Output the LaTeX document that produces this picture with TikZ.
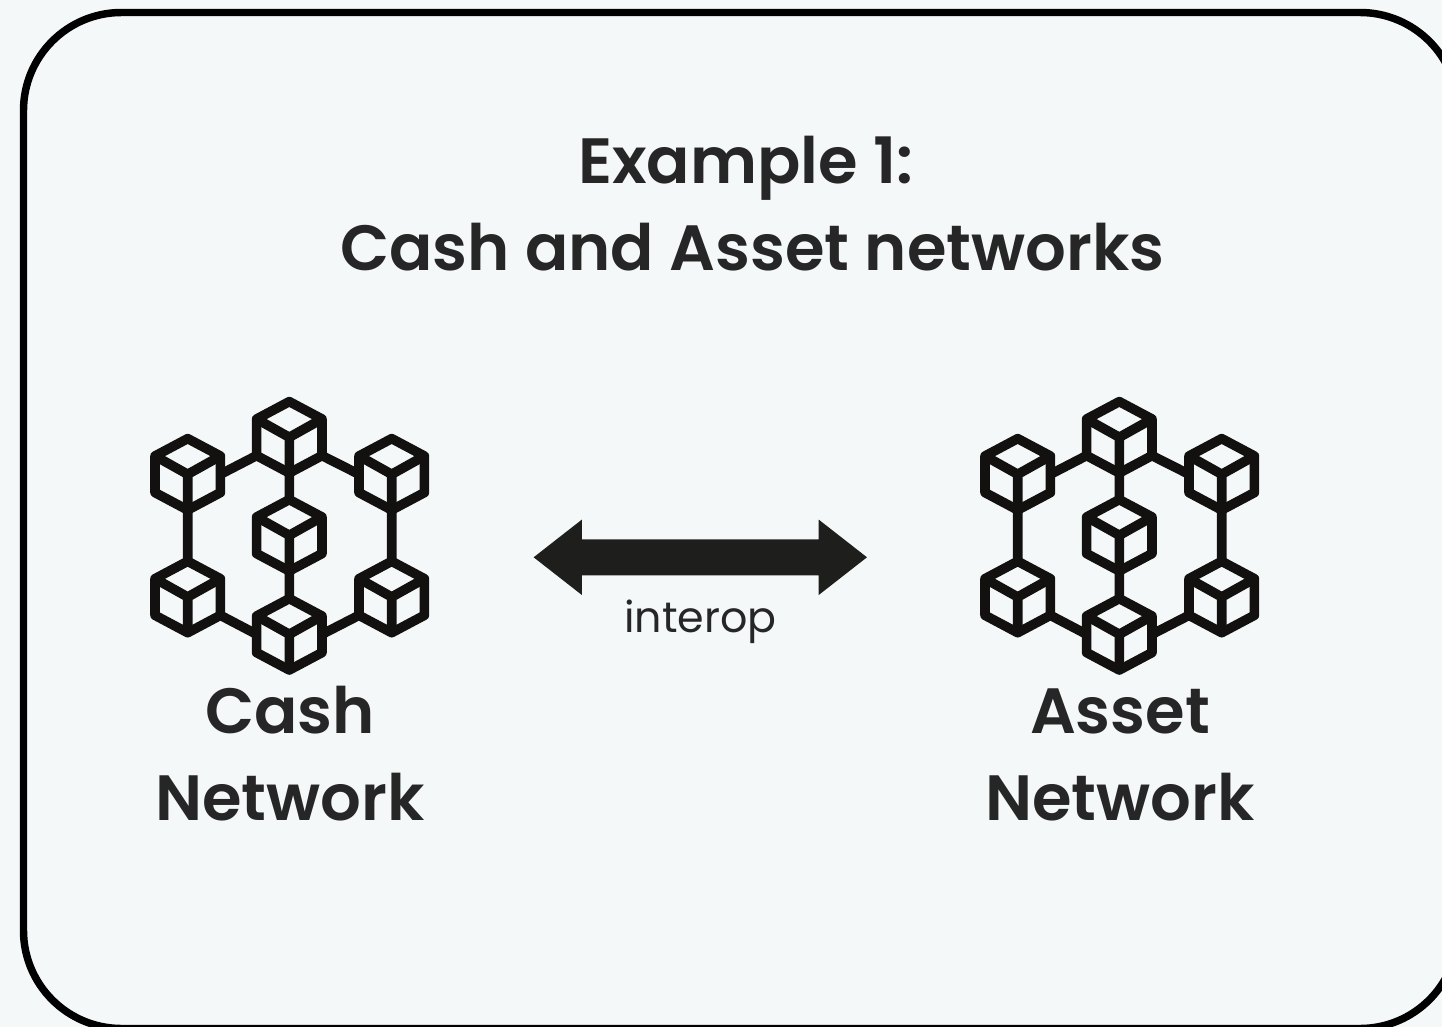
\documentclass[tikz,border=0pt]{standalone}
\usepackage{fontspec}
\usetikzlibrary{shapes.arrows}
\setmainfont{Poppins}
\newfontfamily\semib{Poppins SemiBold}
\definecolor{bgc}{HTML}{F5F8F9}
\definecolor{inkc}{HTML}{262626}
\definecolor{iconc}{HTML}{12110F}
\definecolor{arrowc}{HTML}{1E1E1C}
\tikzset{
  x=0.75pt,y=-0.75pt,
  iconline/.style={draw=iconc,line width=7.2pt,line join=round},
  heading/.style={text=inkc,font=\semib\fontsize{48pt}{65.25pt}\selectfont,align=center,inner sep=0pt},
  small/.style={text=inkc,font=\fontsize{32.1pt}{40pt}\selectfont,inner sep=0pt,anchor=base},
  pics/blockcube/.style={code={
    \coordinate (-t) at (0,-35.7);
    \coordinate (-b) at (0,35.7);
    \coordinate (-ul) at (-32.7,-18.3);
    \coordinate (-ur) at (32.7,-18.3);
    \coordinate (-ll) at (-32.7,18.3);
    \coordinate (-lr) at (32.7,18.3);
    \coordinate (-lm) at (-32.7,0);
    \coordinate (-rm) at (32.7,0);
    \coordinate (-c) at (0,0);
    \draw[iconline] (-t)--(-ur)--(-lr)--(-b)--(-ll)--(-ul)--cycle;
    \draw[iconline] (-ul)--(-c)--(-ur) (-c)--(-b);
  }},
  pics/chainicon/.style={code={
    \pic (-top) at (0,-98) {blockcube};
    \pic (-left) at (-101.6,-61) {blockcube};
    \pic (-right) at (102.4,-61) {blockcube};
    \pic (-mid) at (0,0) {blockcube};
    \pic (-bl) at (-101.6,61.7) {blockcube};
    \pic (-br) at (102.4,61.7) {blockcube};
    \pic (-bot) at (0,99) {blockcube};
    \draw[iconline] (-left-b)--(-bl-t) (-right-b)--(-br-t)
      (-top-b)--(-mid-t) (-mid-b)--(-bot-t)
      (-top-ll)--(-left-rm) (-top-lr)--(-right-lm)
      (-bl-lr)--(-bot-lm) (-br-ll)--(-bot-rm);
  }}
}
\begin{document}
\begin{tikzpicture}
\useasboundingbox (0,0) rectangle (1442,1027);
\clip (0,0) rectangle (1442,1027);
\fill[bgc] (0,0) rectangle (1442,1027);
\draw[black,fill=bgc,line width=5.6pt,rounded corners=73.5pt] (23.5,12.5) rectangle (1458,1028.5);
\node[heading] (title) at (752.3,204) {Example 1:\hspace*{10pt}\\Cash and Asset networks};
\pic (cash) at (289.3,535.3) {chainicon};
\pic (asset) at (1119.3,535.3) {chainicon};
\node[heading] (cashlabel) at (290,753.6) {Cash\\Network};
\node[heading] (assetlabel) at (1120,755) {Asset\\Network};
\node[shape=double arrow,fill=arrowc,inner sep=0pt,minimum height=250pt,minimum width=56.25pt,
  double arrow head extend=14.8pt,double arrow tip angle=76] (link) at (700.3,557.3) {\rule{0pt}{26.6pt}};
\node[small] (interop) at (700.6,632) {interop};
\end{tikzpicture}
\end{document}
